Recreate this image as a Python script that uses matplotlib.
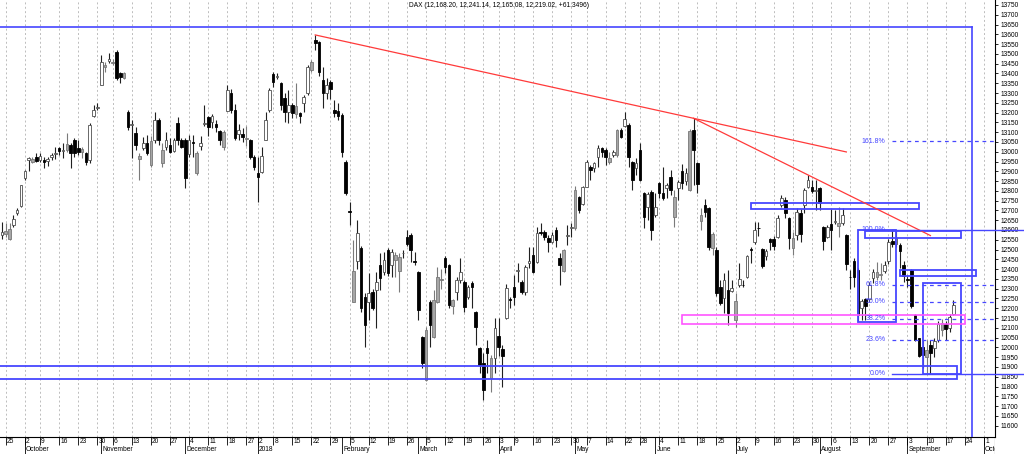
import matplotlib.pyplot as plt
import numpy as np
import pandas as pd
from matplotlib.patches import Rectangle

plt.rcParams['font.family'] = ['Liberation Sans', 'DejaVu Sans']

# trading calendar of the chart (exchange holidays left out)
holidays = ['2017-10-03', '2017-10-31', '2017-12-25', '2017-12-26', '2018-01-01',
            '2018-03-30', '2018-04-02', '2018-05-01', '2018-05-21', '2018-10-03']
days = pd.bdate_range('2017-09-22', '2018-10-05')
days = days[~days.isin(pd.to_datetime(holidays))]

# daily DAX candles, 22 Sep 2017 .. 19 Sep 2018
opens = [
    12575, 12580, 12555, 12625, 12685, 12725, 12865, 12958, 12950, 12975,
    12960, 12958, 12954, 12975, 12990, 13017, 13005, 13009, 13034, 13060,
    13017, 12998, 12992, 12958, 13182, 13222, 13341, 13435, 13465, 13452,
    13511, 13401, 13375, 13205, 13137, 13094, 12961, 13017, 13043, 12932,
    13060, 13162, 12941, 13022, 13034, 13005, 13148, 13060, 13060, 12990,
    13050, 12893, 13030, 13140, 13175, 13150, 13140, 13105, 13026, 13210,
    13300, 13215, 13090, 13090, 13065, 13060, 12975, 12893, 12898, 13060,
    13213, 13397, 13380, 13350, 13273, 13205, 13240, 13195, 13200, 13247,
    13298, 13418, 13570, 13560, 13365, 13298, 13355, 13215, 13208, 13190,
    12950, 12695, 12234, 12440, 12506, 12259, 12234, 12285, 12293, 12420,
    12387, 12497, 12420, 12445, 12390, 12480, 12565, 12575, 12440, 12384,
    12055, 11835, 12234, 12055, 12234, 12345, 12455, 12420, 12210, 12285,
    12345, 12336, 12260, 12330, 12183, 11995, 11920, 11995, 11842, 11944,
    12060, 11990, 12150, 12245, 12307, 12390, 12336, 12285, 12430, 12472,
    12438, 12592, 12592, 12557, 12540, 12600, 12455, 12392, 12570, 12610,
    12608, 12770, 12733, 12822, 12924, 12915, 12975, 13017, 13009, 12950,
    12985, 12983, 13111, 13131, 13137, 12949, 12915, 13009, 12787, 12720,
    12796, 12677, 12838, 12787, 12813, 12872, 12668, 12813, 12900, 12850,
    12805, 13111, 12941, 12645, 12728, 12711, 12510, 12498, 12310, 12250,
    12295, 12290, 12140, 12320, 12320, 12362, 12505, 12540, 12610, 12505,
    12465, 12555, 12555, 12565, 12727, 12753, 12660, 12506, 12575, 12685,
    12728, 12822, 12822, 12800, 12813, 12617, 12566, 12630, 12640, 12620,
    12636, 12575, 12360, 12440, 12395, 12200, 12245, 12245, 12353, 12361,
    12370, 12390, 12440, 12545, 12530, 12525, 12421, 12350, 12395, 12165,
    12046, 12004, 11953, 12012, 11995, 12040, 12090, 12120, 12097, 12168.20,
]
highs = [
    12640, 12635, 12635, 12675, 12710, 12830, 12905, 12975, 12975, 12992,
    12995, 12975, 12975, 12992, 13025, 13026, 13043, 13094, 13043, 13069,
    13060, 13026, 13000, 13145, 13239, 13251, 13494, 13460, 13503, 13472,
    13520, 13409, 13409, 13213, 13162, 13128, 12992, 13077, 13085, 13080,
    13205, 13170, 13043, 13102, 13068, 13068, 13176, 13068, 13068, 13085,
    13085, 13005, 13080, 13240, 13182, 13195, 13160, 13110, 13110, 13340,
    13320, 13245, 13140, 13120, 13130, 13065, 12985, 12975, 13025, 13205,
    13325, 13410, 13400, 13358, 13298, 13315, 13247, 13350, 13205, 13290,
    13443, 13469, 13597, 13565, 13435, 13375, 13365, 13265, 13247, 13200,
    12960, 12745, 12549, 12650, 12520, 12276, 12378, 12300, 12387, 12480,
    12490, 12510, 12505, 12490, 12480, 12500, 12600, 12585, 12490, 12390,
    12060, 12105, 12243, 12293, 12413, 12400, 12465, 12425, 12245, 12360,
    12455, 12345, 12320, 12340, 12185, 12000, 11970, 12040, 11960, 12148,
    12150, 12010, 12325, 12260, 12370, 12430, 12345, 12420, 12515, 12515,
    12617, 12634, 12600, 12575, 12592, 12617, 12481, 12505, 12625, 12634,
    12825, 12775, 12825, 12958, 12932, 12949, 13034, 13026, 13017, 13000,
    13010, 13115, 13120, 13205, 13145, 12955, 12966, 13043, 12796, 12796,
    12805, 12787, 12847, 12924, 12838, 12907, 12804, 12855, 12935, 12915,
    13115, 13171, 12945, 12711, 12757, 12720, 12590, 12515, 12345, 12380,
    12395, 12345, 12280, 12430, 12345, 12470, 12515, 12640, 12640, 12510,
    12505, 12560, 12570, 12677, 12779, 12770, 12665, 12592, 12710, 12705,
    12813, 12881, 12855, 12855, 12820, 12620, 12625, 12705, 12700, 12715,
    12710, 12580, 12395, 12455, 12405, 12245, 12250, 12335, 12400, 12438,
    12430, 12440, 12555, 12600, 12600, 12535, 12440, 12365, 12400, 12170,
    12050, 12040, 12038, 12038, 12050, 12135, 12145, 12135, 12170, 12241.14,
]
lows = [
    12555, 12565, 12550, 12615, 12675, 12720, 12855, 12900, 12940, 12948,
    12948, 12915, 12925, 12958, 12965, 12983, 12966, 13000, 12915, 12975,
    12983, 12966, 12932, 12941, 13179, 13213, 13341, 13409, 13452, 13443,
    13367, 13350, 13370, 13111, 12966, 13009, 12856, 13009, 12983, 12924,
    13043, 13034, 12924, 13009, 12995, 12998, 13034, 13017, 12813, 12975,
    12975, 12880, 13010, 13130, 13080, 13120, 13100, 13035, 13010, 13210,
    13200, 13060, 13060, 13050, 13030, 12965, 12905, 12745, 12890, 13060,
    13205, 13332, 13370, 13213, 13153, 13145, 13170, 13170, 13145, 13205,
    13290, 13409, 13520, 13385, 13222, 13272, 13268, 13175, 13162, 12975,
    12780, 12625, 12230, 12400, 12183, 12004, 12140, 12190, 12100, 12293,
    12370, 12365, 12360, 12360, 12285, 12455, 12520, 12438, 12420, 12140,
    11893, 11830, 12004, 12050, 12225, 12300, 12380, 12200, 12170, 12243,
    12330, 12183, 12245, 12200, 12010, 11867, 11730, 11868, 11774, 11868,
    11955, 11800, 12145, 12200, 12217, 12336, 12275, 12268, 12404, 12378,
    12430, 12575, 12550, 12489, 12532, 12515, 12319, 12385, 12523, 12566,
    12600, 12685, 12728, 12818, 12856, 12898, 12924, 12975, 12932, 12935,
    12975, 12975, 13070, 13125, 12924, 12805, 12880, 12850, 12609, 12650,
    12550, 12668, 12762, 12753, 12762, 12779, 12617, 12753, 12810, 12830,
    12800, 12830, 12787, 12600, 12668, 12500, 12472, 12265, 12215, 12175,
    12115, 12285, 12105, 12310, 12310, 12355, 12430, 12530, 12570, 12405,
    12445, 12500, 12500, 12558, 12720, 12660, 12505, 12472, 12550, 12540,
    12685, 12813, 12788, 12702, 12700, 12498, 12558, 12500, 12630, 12565,
    12625, 12395, 12300, 12310, 12135, 12140, 12140, 12230, 12330, 12345,
    12345, 12380, 12425, 12515, 12515, 12405, 12335, 12310, 12200, 12035,
    11950, 11893, 11867, 11865, 11950, 12030, 12060, 12040, 12080, 12165.08,
]
closes = [
    12592, 12594, 12605, 12657, 12704, 12828, 12902, 12968, 12965, 12955,
    12976, 12949, 12962, 12982, 12996, 13005, 13010, 13038, 12992, 12992,
    13000, 13012, 12949, 13137, 13213, 13227, 13460, 13443, 13472, 13460,
    13375, 13384, 13401, 13128, 13141, 13034, 12978, 13043, 12992, 13055,
    13162, 13060, 13009, 13060, 13000, 13060, 13060, 13022, 12864, 13058,
    13046, 12995, 13045, 13145, 13125, 13183, 13126, 13060, 13102, 13315,
    13215, 13070, 13110, 13073, 13070, 12975, 12920, 12872, 12978, 13162,
    13315, 13358, 13385, 13240, 13205, 13240, 13200, 13235, 13182, 13282,
    13435, 13460, 13555, 13410, 13298, 13340, 13320, 13196, 13182, 13000,
    12787, 12690, 12392, 12585, 12200, 12114, 12276, 12200, 12336, 12353,
    12446, 12378, 12490, 12472, 12461, 12483, 12527, 12497, 12435, 12191,
    11918, 12090, 12115, 12243, 12362, 12345, 12413, 12217, 12240, 12345,
    12387, 12205, 12310, 12310, 12105, 11910, 11783, 11970, 11944, 12097,
    12002, 11957, 12305, 12240, 12260, 12395, 12285, 12413, 12440, 12387,
    12583, 12583, 12565, 12540, 12574, 12549, 12421, 12500, 12575, 12615,
    12804, 12700, 12818, 12949, 12907, 12941, 13017, 13000, 12975, 12970,
    13000, 13111, 13077, 13165, 12975, 12856, 12941, 12856, 12668, 12783,
    12600, 12719, 12787, 12762, 12830, 12804, 12770, 12847, 12842, 12890,
    13107, 13009, 12835, 12677, 12694, 12512, 12580, 12276, 12228, 12345,
    12177, 12306, 12238, 12350, 12317, 12465, 12496, 12600, 12609, 12417,
    12493, 12541, 12520, 12662, 12762, 12686, 12561, 12557, 12690, 12580,
    12804, 12857, 12798, 12805, 12737, 12546, 12617, 12598, 12648, 12634,
    12676, 12424, 12358, 12358, 12165, 12237, 12210, 12320, 12387, 12387,
    12372, 12420, 12540, 12528, 12561, 12494, 12364, 12346, 12210, 12040,
    11955, 11959, 11987, 11970, 12032, 12120, 12124, 12096, 12157.6704, 12219.02,
]

# drawings on the chart
fib_low = 11865
fib_high = 12600
fib_ratios = [0.0, 23.6, 38.2, 50.0, 61.8, 100.0, 161.8]
fib_from = '2018-08-28'
trend_lines = [
    ('2018-01-23', 13597, '2018-06-15', 13171, '2018-08-10'),
    ('2018-06-15', 13171, '2018-07-27', 12881, '2018-09-11'),
]
blue_boxes = [
    ('2018-07-06', '2018-09-06', 12708, 12737),
    ('2018-08-17', '2018-09-21', 12561, 12597),
    ('2018-08-15', '2018-08-29', 12128, 12600),
    ('2018-08-30', '2018-09-27', 12365, 12397),
    ('2018-09-07', '2018-09-21', 11866, 12331),
    (None, '2018-09-20', 11839, 11905),
]
pink_box = ('2018-06-12', '2018-09-24', 12118, 12168)
frame_top = 13638
frame_end = '2018-09-26'


def pos(d):
    return days.get_loc(pd.Timestamp(d))


o = np.array(opens, dtype=float)
h = np.array(highs, dtype=float)
l = np.array(lows, dtype=float)
c = np.array(closes, dtype=float)
x = np.arange(len(c))

fig = plt.figure(figsize=(10.24, 4.54), dpi=100)
ax = fig.add_axes([0, 17.5 / 454, 995 / 1024, 436.5 / 454])
x0, x1 = -0.49, 259.9
y0, y1 = 11544.6, 13775.5
ax.set_xlim(x0, x1)
ax.set_ylim(y0, y1)

week_start = [i for i in range(1, len(days)) if days[i].weekday() < days[i - 1].weekday()]
month_start = [i for i in range(1, len(days)) if days[i].month != days[i - 1].month]

ax.vlines(week_start, y0, y1, colors='#bcbcbc', linestyles=(0, (2, 2.5)), lw=0.7, zorder=0)

# candles
prev = np.r_[o[0], c[:-1]]
up = c >= o
gray = up & (o < prev)
wick_col = np.where(gray, '#7a7a7a', '#202020')
ax.vlines(x, l, h, colors=wick_col, lw=0.8, zorder=2)
face = np.where(~up, 'black', np.where(gray, '#a6a6a6', 'white'))
edge = np.where(~up, 'black', np.where(gray, '#777777', '#505050'))
ax.bar(x, np.maximum(np.abs(c - o), 3), bottom=np.minimum(o, c), width=0.68,
       color=face, edgecolor=edge, linewidth=0.6, zorder=3)

blue = '#4646ff'
# big frame at the top
xe = pos(frame_end)
ax.plot([x0 - 1, xe], [frame_top, frame_top], color=blue, lw=1.2, zorder=4)
ax.plot([xe, xe], [y0, frame_top], color=blue, lw=1.2, zorder=4)

for s, e, lo, hi in blue_boxes:
    xs = x0 - 1 if s is None else pos(s)
    ax.add_patch(Rectangle((xs, lo), pos(e) - xs, hi - lo, fill=False,
                           ec=blue, lw=1.3, zorder=4))
s, e, lo, hi = pink_box
ax.add_patch(Rectangle((pos(s), lo), pos(e) - pos(s), hi - lo, fill=False,
                       ec='#ff55ff', lw=1.2, zorder=4))

for d1, p1, d2, p2, de in trend_lines:
    slope = (p2 - p1) / (pos(d2) - pos(d1))
    xa, xb = pos(d1), pos(de)
    ax.plot([xa, xb], [p1, p1 + slope * (xb - xa)], color='#ff3a3a', lw=0.9, zorder=4)

# fibonacci levels
xf = pos(fib_from)
for r in fib_ratios:
    lvl = fib_low + r / 100 * (fib_high - fib_low)
    if r in (0.0, 100.0):
        ax.plot([xf, 268], [lvl, lvl], color=blue, lw=1.0, clip_on=False, zorder=4)
    else:
        ax.plot([xf, x1], [lvl, lvl], color=blue, lw=0.9, ls=(0, (3, 3)), zorder=4)
    ax.text(xf - 1.8, lvl, f'{r:.1f}%', ha='right', va='center', fontsize=5,
            color=blue, zorder=5)

# price axis on the right
ax.yaxis.tick_right()
ax.set_yticks(np.arange(11600, 13751, 50))
ax.set_xticks([])
ax.tick_params(axis='y', direction='out', length=2.5, width=0.6, pad=1.5, labelsize=4.8)
for side in ['left', 'top']:
    ax.spines[side].set_visible(False)
ax.spines['right'].set_linewidth(0.8)
ax.spines['bottom'].set_linewidth(0.8)

# date band
axd = fig.add_axes([0, 0, 995 / 1024, 17.5 / 454])
axd.set_xlim(x0, x1)
axd.set_ylim(0, 1)
axd.axis('off')
axd.vlines(week_start, 0.5, 1, colors='black', lw=0.6)
axd.vlines(month_start, 0, 1, colors='black', lw=0.6)
axd.vlines([x1], 0, 1, colors='black', lw=0.8)
for i in week_start:
    axd.text(i + 0.3, 0.74, str(days[i].day), fontsize=4.8, ha='left', va='center', clip_on=True)
for i in month_start:
    label = '2018' if days[i].month == 1 else days[i].strftime('%B')
    axd.text(i + 0.3, 0.24, label, fontsize=4.8, ha='left', va='center', clip_on=True)

title = 'DAX ({:,.2f}, {:,.2f}, {:,.2f}, {:,.2f}, {:+.4f})'.format(
    o[-1], h[-1], l[-1], c[-1], c[-1] - c[-2])
fig.text(498.7 / 1024, 1 - 5.5 / 454, title, ha='center', va='center', fontsize=4.8)

fig.savefig('out.png', dpi=100)
